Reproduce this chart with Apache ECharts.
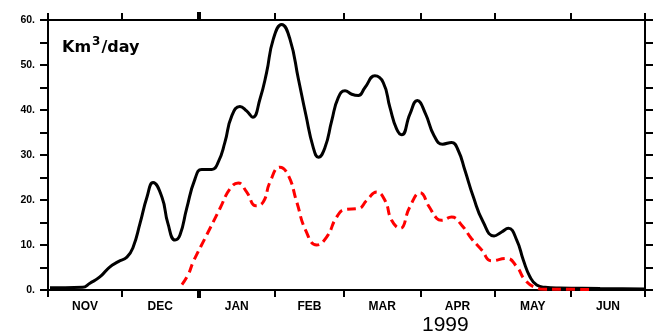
<!DOCTYPE html>
<html><head><meta charset="utf-8">
<script src="https://cdn.jsdelivr.net/npm/echarts@6/dist/echarts.min.js"></script>
<style>html,body{margin:0;padding:0;background:#fff}#c{width:653px;height:335px}</style>
</head><body><div id="c"></div>
<script>
// x = days since 1998-11-01
const monthLabels = ['NOV','DEC','JAN','FEB','MAR','APR','MAY','JUN'];
const monthStarts = [0,30,61,92,120,151,181,212,242];
const monthMids = [15,45.5,76.5,106,135.5,166,196.5,227];
const yearLabel = '1999';

const totalDays = [0.8,7,14,17,21,25,28.5,32,34.5,37.3,40.1,42.6,46.2,48.6,51.5,53.5,56.2,59.6,62.3,66.4,69.0,71.7,74.5,77.8,80.5,83.0,85.9,88.6,91.3,94.7,98.1,101.5,104.5,107.5,109.6,112.3,115.0,117.7,120.4,123.1,125.8,128.5,132.5,135.9,138.6,141.3,143.4,146.7,149.7,153,156.5,160,163.6,166.3,169.0,172.4,176.4,180.8,183.9,186.6,190.0,192.7,195.4,198.1,201.5,207.5,223.8,242];
const totalVals = [0.5,0.5,0.6,1.5,2.9,5.1,6.3,7.3,9.5,14.8,20.6,23.9,20.6,14.8,11.1,12.2,18.1,24.7,26.8,26.8,28.4,32.8,38.7,40.8,39.8,38.4,42.4,48.3,55.7,59.0,55.7,46.9,39,31.7,29.5,31.7,37.6,42.8,44.3,43.5,43.2,45.0,47.6,46.1,40.6,35.8,34.5,39.1,42.1,39.2,34.3,32.4,32.8,31.0,26.6,20.7,15.1,12.0,12.9,13.7,11.1,6.6,2.9,1.1,0.6,0.45,0.35,0.2];

const partDays = [54.3,56.9,58.9,64.3,69.7,73.8,77.1,80.5,84.3,87.3,90.0,94.0,97.4,100.8,104.5,108.9,113.0,117.0,120.4,125.8,129.2,133.2,136.6,139.3,142.7,146.7,150.8,154.5,157.6,159.5,163.6,167.7,171.7,175.8,179.8,185.9,190.0,193.4,197.4,201.5,210,221];
const partVals = [1.2,3.5,6.3,12.2,18.1,22.5,23.8,21.8,18.7,19.6,24.0,27.3,25.5,19.6,13.2,10.0,11.8,16.2,17.9,18.1,19.9,21.8,19.9,15.5,13.7,18.5,21.6,18.5,15.9,15.5,16.2,14.4,11.4,8.9,6.5,7.0,5.2,2.2,0.6,0.15,0.15,0.1];

const zip = (a,b) => a.map((v,i)=>[v,b[i]]);
const chart = echarts.init(document.getElementById('c'), null, {renderer:'canvas'});
const X0 = monthStarts[0], X1 = monthStarts[monthStarts.length-1];
const lineStyle = {color:'#000', width:2};
function xAx(pos, labels) {
  return {
    type:'value', position:pos, min:X0, max:X1,
    axisLine:{show:true, onZero:false, lineStyle},
    axisTick:{show:true, inside:false, length:7, customValues:monthStarts, lineStyle},
    axisLabel:{show:labels, customValues:monthMids, margin:11,
      fontFamily:'Liberation Sans', fontWeight:'bold', fontSize:12, color:'#000',
      formatter:(v)=>{const i=monthMids.indexOf(v);return i>=0?monthLabels[i]:'';}},
    splitLine:{show:false}
  };
}
function yAx(pos, labels) {
  return {
    type:'value', position:pos, min:0, max:60, interval:5,
    axisLine:{show:true, onZero:false, lineStyle},
    axisTick:{show:true, inside:false, length:8, lineStyle},
    axisLabel:{show:labels, margin:13, fontFamily:'Liberation Sans', fontWeight:'bold', fontSize:10.5, color:'#000',
      formatter:(v)=> v%10===0 ? v+'.' : ''},
    splitLine:{show:false}
  };
}
const janTick = {
  type:'value', position:'bottom', min:X0, max:X1,
  axisLine:{show:false, onZero:false},
  axisTick:{show:true, length:8, customValues:[monthStarts[2]], lineStyle:{color:'#000', width:4}},
  axisLabel:{show:false}, splitLine:{show:false}
};
const janTickTop = Object.assign({}, janTick, {position:'top'});
chart.setOption({
  animation:false,
  backgroundColor:'#fff',
  grid:{left:48, right:8, top:20, bottom:45, containLabel:false},
  xAxis:[xAx('bottom', true), xAx('top', false), janTick, janTickTop],
  yAxis:[yAx('left', true), yAx('right', false)],
  series:[
    {type:'line', data:zip(totalDays,totalVals), smooth:0.5, symbol:'none', xAxisIndex:0, yAxisIndex:0,
      lineStyle:{color:'#000', width:3}},
    {type:'line', data:zip(partDays,partVals), smooth:0.5, symbol:'none', xAxisIndex:0, yAxisIndex:0,
      lineStyle:{color:'#ff0000', width:3, type:[9,5]}}
  ],
  graphic:[
    {type:'text', left:62, top:36, style:{
      text:'{b|Km}{s|3}{b|/day}',
      rich:{
        b:{fontFamily:'DejaVu Sans', fontWeight:'bold', fontSize:16, lineHeight:20, verticalAlign:'bottom', fill:'#000'},
        s:{fontFamily:'DejaVu Sans', fontWeight:'bold', fontSize:12, lineHeight:4, verticalAlign:'top', fill:'#000', padding:[0,1,0,1]}
      }}},
    {type:'text', left:422, top:315, style:{text:yearLabel, fontFamily:'Liberation Sans', fontSize:21, fill:'#000', align:'center'}}
  ]
});
</script></body></html>
